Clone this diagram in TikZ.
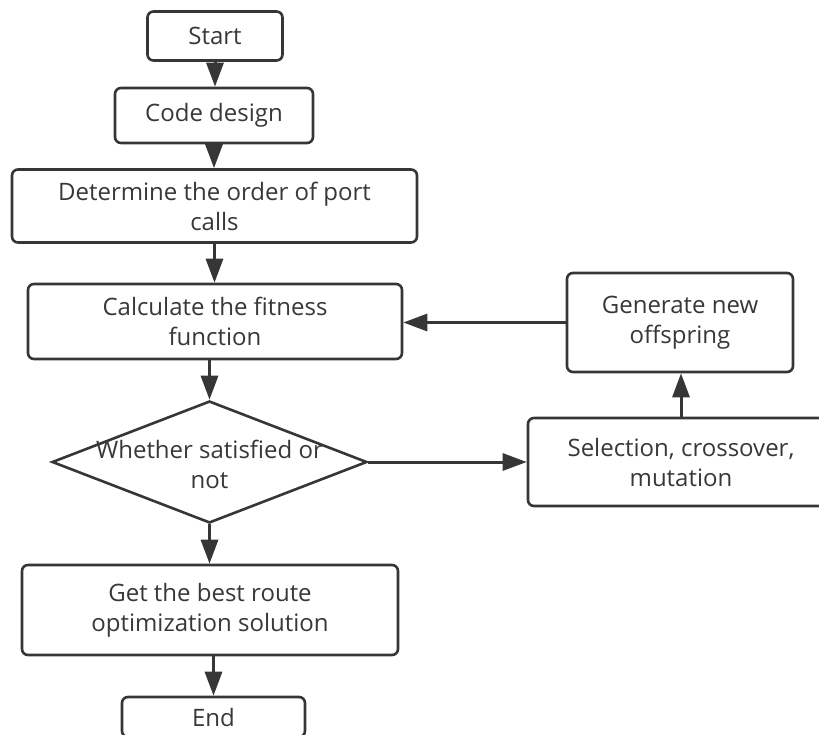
\documentclass[tikz,border=0pt]{standalone}
\usepackage{fontspec}
\setmainfont{Open Sans}
\usetikzlibrary{shapes.geometric,arrows.meta}
\definecolor{ink}{HTML}{363636}
\definecolor{txt}{HTML}{383838}
\begin{document}
\begin{tikzpicture}[x=1pt,y=-1pt,
  box/.style={draw=ink, line width=2.6pt, rounded corners=6pt, fill=white,
    text=txt, align=center, inner sep=0pt, font=\fontsize{24}{30}\selectfont},
  decision/.style={draw=ink, line width=2.6pt, diamond, fill=white, inner sep=0pt},
  label/.style={text=txt, align=center, inner sep=0pt, font=\fontsize{24}{30}\selectfont},
  arr/.style={draw=ink, line width=3pt, -{Triangle[length=24pt,width=17pt]}}]
\clip (0,0) rectangle (819,734);
\fill[white] (0,0) rectangle (819,734);

% main column
\node[box, minimum width=135pt, minimum height=49pt] (start) at (215,36) {Start};
\node[box, minimum width=198pt, minimum height=55pt] (code) at (214,115.5) {Code design};
\node[box, minimum width=405pt, minimum height=73pt] (det) at (214.5,206) {Determine the order of port\\calls};
\node[box, minimum width=374pt, minimum height=75pt] (calc) at (215,321.5) {Calculate the fitness\\function};
\node[decision, minimum width=315pt, minimum height=122pt] (dia) at (209.5,462) {};
\node[label] (diatext) at (209.5,464) {Whether satisfied or\\not};
\node[box, minimum width=376pt, minimum height=90pt] (best) at (210,610) {Get the best route\\optimization solution};
\node[box, minimum width=183pt, minimum height=40pt] (end) at (213.5,717) {End};

% loop column
\node[box, minimum width=226pt, minimum height=99pt] (gen) at (680,322.5) {Generate new\\offspring};
\node[box, minimum width=306pt, minimum height=88pt] (sel) at (681,462) {Selection, crossover,\\mutation};

% connectors
\draw[arr] (start.south) -- (start.south |- code.north);
\draw[arr] (code.south) -- (code.south |- det.north);
\draw[arr] (det.south) -- (det.south |- calc.north);
\draw[arr] (calc.south -| dia.north) -- (dia.north);
\draw[arr] (dia.south) -- (dia.south |- best.north);
\draw[arr] (best.south -| end.north) -- (end.north);
\draw[arr] (dia.east) -- (dia.east -| sel.west);
\draw[arr] (sel.north) -- (sel.north |- gen.south);
\draw[arr] (gen.west) -- (gen.west -| calc.east);
\end{tikzpicture}
\end{document}
